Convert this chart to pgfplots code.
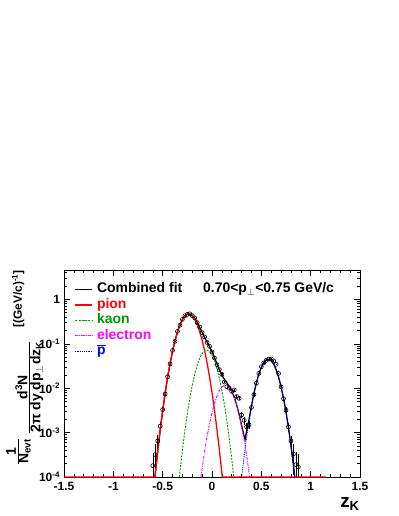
\documentclass[border=0pt]{standalone}
\usepackage{fontspec}
\setmainfont{Liberation Sans}
\usepackage{amsmath}
\usepackage{pgfplots}
\pgfplotsset{compat=1.18}
\definecolor{kgreen}{HTML}{009900}
\definecolor{emag}{HTML}{FF00FF}
\definecolor{pblue}{HTML}{0000FF}
\newcommand{\fs}[1]{\fontsize{#1}{#1}\selectfont}

\begin{document}
\begin{tikzpicture}
\path[use as bounding box] (0,0) rectangle (399bp,516bp);
\begin{axis}[
  at={(64bp,39bp)}, anchor=south west,
  scale only axis, width=296bp, height=207bp,
  xmin=-1.5, xmax=1.5,
  ymode=log, ymin=1e-4, ymax=4.6,
  xtick={-1.5,-1,-0.5,0,0.5,1,1.5},
  xticklabels={-1.5,-1,-0.5,0,0.5,1,1.5},
  minor x tick num=4,
  ytick={1e-4,1e-3,1e-2,1e-1,1},
  yticklabels={10\textsuperscript{-4},10\textsuperscript{-3},10\textsuperscript{-2},10\textsuperscript{-1},1},
  minor ytick={2e-4,3e-4,4e-4,5e-4,6e-4,7e-4,8e-4,9e-4,
               2e-3,3e-3,4e-3,5e-3,6e-3,7e-3,8e-3,9e-3,
               2e-2,3e-2,4e-2,5e-2,6e-2,7e-2,8e-2,9e-2,
               0.2,0.3,0.4,0.5,0.6,0.7,0.8,0.9,2,3,4},
  tick align=inside,
  major tick length=6bp, minor tick length=3bp,
  tick style={black, line width=0.6bp},
  axis line style={line width=0.8bp},
  ticklabel style={font=\bfseries\fs{12}},
  xticklabel style={yshift=-1.5bp},
  yticklabel style={xshift=-0.5bp},
  legend style={draw=none, fill=none, inner sep=0pt,
    at={(rel axis cs:0.035,0.944)}, anchor=north west,
    row sep=0pt, column sep=3bp,
    nodes={inner sep=1.2bp, text height=10bp, text depth=3bp, font=\bfseries\fs{14}}},
  legend cell align=left,
]
% data points
\addplot[forget plot, only marks, mark=o, mark size=2bp, black,
  mark options={solid, fill=white, line width=0.6bp},
  error bars/.cd, y dir=both, y explicit,
  error bar style={line width=0.5bp, black}, error mark=none]
  coordinates {
  (-0.6,1.8e-4) +- (0,1.7e-4)
  (-0.575,3.2e-4) +- (0,2.4e-4)
  (-0.55,6.5e-4) +- (0,2.2e-4)
  (-0.525,1.4e-3) +- (0,3e-4)
  (-0.5,3.3e-3) +- (0,5e-4)
  (-0.475,7.4e-3) +- (0,7e-4)
  (-0.45,0.0181) +- (0,0.001)
  (-0.425,0.0352) +- (0,0.0015)
  (-0.4,0.0712) +- (0,0.002)
  (-0.375,0.114) +- (0,0.003)
  (-0.35,0.191) +- (0,0.004)
  (-0.325,0.262) +- (0,0.005)
  (-0.3,0.356) +- (0,0.006)
  (-0.275,0.428) +- (0,0.007)
  (-0.25,0.46) +- (0,0.007)
  (-0.225,0.474) +- (0,0.007)
  (-0.2,0.431) +- (0,0.007)
  (-0.175,0.383) +- (0,0.006)
  (-0.15,0.30) +- (0,0.005)
  (-0.125,0.24) +- (0,0.005)
  (-0.1,0.178) +- (0,0.004)
  (-0.075,0.143) +- (0,0.004)
  (-0.05,0.107) +- (0,0.003)
  (-0.025,0.088) +- (0,0.003)
  (0,0.0655) +- (0,0.002)
  (0.025,0.048) +- (0,0.002)
  (0.05,0.034) +- (0,0.0015)
  (0.075,0.0262) +- (0,0.0012)
  (0.1,0.0205) +- (0,0.001)
  (0.125,0.0138) +- (0,0.0009)
  (0.15,0.0108) +- (0,0.0008)
  (0.175,0.0100) +- (0,0.0008)
  (0.2,0.0085) +- (0,0.0007)
  (0.225,0.0091) +- (0,0.0007)
  (0.25,0.0065) +- (0,0.0006)
  (0.275,0.0059) +- (0,0.0006)
  (0.3,0.0025) +- (0,0.0004)
  (0.325,0.0019) +- (0,0.0004)
  (0.35,0.00135) +- (0,0.0003)
  (0.375,0.0015) +- (0,0.0003)
  (0.4,0.0037) +- (0,0.0005)
  (0.425,0.0072) +- (0,0.0007)
  (0.45,0.0130) +- (0,0.0009)
  (0.475,0.0215) +- (0,0.001)
  (0.5,0.0305) +- (0,0.0012)
  (0.525,0.0372) +- (0,0.0013)
  (0.55,0.0425) +- (0,0.0014)
  (0.575,0.0452) +- (0,0.0014)
  (0.6,0.0455) +- (0,0.0014)
  (0.625,0.041) +- (0,0.0014)
  (0.65,0.0345) +- (0,0.0013)
  (0.675,0.0215) +- (0,0.001)
  (0.7,0.0108) +- (0,0.0008)
  (0.725,0.0058) +- (0,0.0006)
  (0.75,0.0032) +- (0,0.0005)
  (0.775,0.00135) +- (0,0.0003)
  (0.8,6.5e-4) +- (0,2e-4)
  (0.825,3.3e-4) +- (0,2.2e-4)
  (0.85,1.9e-4) +- (0,1.85e-4)
  (0.875,1.7e-4) +- (0,1.65e-4)
};
% combined fit
\addplot[black, line width=1.3bp] coordinates {
  (-0.578,1e-4) (-0.575,1.18e-4) (-0.55,3.84e-4) (-0.525,1.14e-3) (-0.5,3.10e-3)
  (-0.475,7.71e-3) (-0.45,0.01746) (-0.425,0.0361) (-0.4,0.0683) (-0.375,0.118)
  (-0.35,0.186) (-0.325,0.268) (-0.3,0.352) (-0.275,0.424) (-0.25,0.467)
  (-0.225,0.471) (-0.2,0.438) (-0.175,0.377) (-0.15,0.304) (-0.125,0.236)
  (-0.1,0.181) (-0.075,0.140) (-0.05,0.1097) (-0.025,0.0862) (0,0.0662)
  (0.025,0.0491) (0.05,0.0355) (0.075,0.0259) (0.1,0.0197) (0.125,0.0160)
  (0.15,0.01338) (0.175,0.01106) (0.2,0.00867) (0.225,0.0063) (0.25,0.00419)
  (0.275,0.00256) (0.3,0.00145) (0.325,0.00085) (0.335,0.0007) (0.35,0.00105)
  (0.375,0.00195) (0.4,0.00397) (0.425,0.00764) (0.45,0.01335) (0.475,0.0210)
  (0.5,0.0297) (0.525,0.0379) (0.55,0.0435) (0.575,0.0449) (0.6,0.0417)
  (0.625,0.0348) (0.65,0.0262) (0.675,0.01775) (0.7,0.01081) (0.725,0.00593)
  (0.75,0.00292) (0.775,0.00130) (0.8,0.000519) (0.825,0.000187) (0.839,1e-4)
};
\addlegendentry{Combined fit}
% pion
\addplot[red, line width=1.3bp] coordinates {
  (-1.5,1e-4) (-0.578,1e-4) (-0.575,1.18e-4) (-0.55,3.84e-4) (-0.525,1.14e-3)
  (-0.5,3.10e-3) (-0.475,7.71e-3) (-0.45,0.01746) (-0.425,0.0361) (-0.4,0.0683)
  (-0.375,0.118) (-0.35,0.186) (-0.325,0.268) (-0.3,0.352) (-0.275,0.423)
  (-0.25,0.464) (-0.225,0.465) (-0.2,0.426) (-0.175,0.356) (-0.15,0.271)
  (-0.125,0.189) (-0.1,0.1203) (-0.075,0.0700) (-0.05,0.0371) (-0.025,0.0180)
  (0,7.97e-3) (0.025,3.22e-3) (0.05,1.19e-3) (0.075,4.02e-4) (0.1,1.24e-4)
  (0.104,1e-4) (1.16,1e-4)
};
\addlegendentry{\textcolor{red}{pion}}
% kaon
\addplot[kgreen, line width=0.9bp, dash pattern=on 2bp off 1.3bp] coordinates {
  (-0.331,1e-4) (-0.325,1.31e-4) (-0.3,3.98e-4) (-0.275,1.09e-3) (-0.25,2.67e-3)
  (-0.225,5.89e-3) (-0.2,0.01165) (-0.175,0.0207) (-0.15,0.0329) (-0.125,0.0471)
  (-0.1,0.0604) (-0.075,0.0695) (-0.05,0.0718) (-0.025,0.0666) (0,0.0554)
  (0.025,0.0413) (0.05,0.0277) (0.075,0.01666) (0.1,8.99e-3) (0.125,4.35e-3)
  (0.15,1.89e-3) (0.175,7.38e-4) (0.2,2.58e-4) (0.221,1e-4)
};
\addlegendentry{\textcolor{kgreen}{kaon}}
% electron
\addplot[emag, line width=0.9bp, dash pattern=on 3bp off 1.2bp on 0.8bp off 1.2bp] coordinates {
  (-0.112,1e-4) (-0.1,1.56e-4) (-0.075,3.73e-4) (-0.05,8.07e-4) (-0.025,1.58e-3)
  (0,2.82e-3) (0.025,4.54e-3) (0.05,6.65e-3) (0.075,8.83e-3) (0.1,0.01063)
  (0.125,0.0116) (0.15,0.01149) (0.175,0.01032) (0.2,8.41e-3) (0.225,6.21e-3)
  (0.25,4.16e-3) (0.275,2.53e-3) (0.3,1.39e-3) (0.325,6.97e-4) (0.35,3.16e-4)
  (0.375,1.30e-4) (0.382,1e-4)
};
\addlegendentry{\textcolor{emag}{electron}}
% antiproton
\addplot[pblue, line width=0.8bp, dash pattern=on 1.2bp off 1bp] coordinates {
  (0.301,1e-4) (0.325,2.85e-4) (0.35,7.59e-4) (0.375,1.82e-3) (0.4,3.93e-3)
  (0.425,7.64e-3) (0.45,0.01335) (0.475,0.0210) (0.5,0.0297) (0.525,0.0379)
  (0.55,0.0435) (0.575,0.0449) (0.6,0.0417) (0.625,0.0348) (0.65,0.0262)
  (0.675,0.01775) (0.7,0.01081) (0.725,5.93e-3) (0.75,2.92e-3) (0.775,1.30e-3)
  (0.8,5.19e-4) (0.825,1.87e-4) (0.839,1e-4)
};
\addlegendentry{\textcolor{pblue}{$\overline{\text{p}}$}}
\end{axis}
% panel title
\node[anchor=base west, inner sep=0, font=\bfseries\fs{14}] at (203bp,223bp)
  {0.70<p\textsubscript{$\perp$}<0.75 GeV/c};
% x title
\node[anchor=base east, inner sep=0, font=\bfseries\fs{19}] at (360bp,9bp)
  {z\textsubscript{K}};
% y title
\node[rotate=90, anchor=base east, inner sep=0, font=\bfseries\fs{14}] at (33bp,246bp)
  {\raisebox{11.5bp}{$\frac{\mbox{1}}{\mbox{N\textsubscript{evt}}}$}\hspace{4bp}$\frac{\mbox{d\textsuperscript{3}N}}{\mbox{2π dy dp\textsubscript{$\perp$}dz\textsubscript{K}}}$\hspace{13bp}\raisebox{11bp}{\fs{12}[(GeV/c)\textsuperscript{-1}]}};
\end{tikzpicture}
\end{document}
